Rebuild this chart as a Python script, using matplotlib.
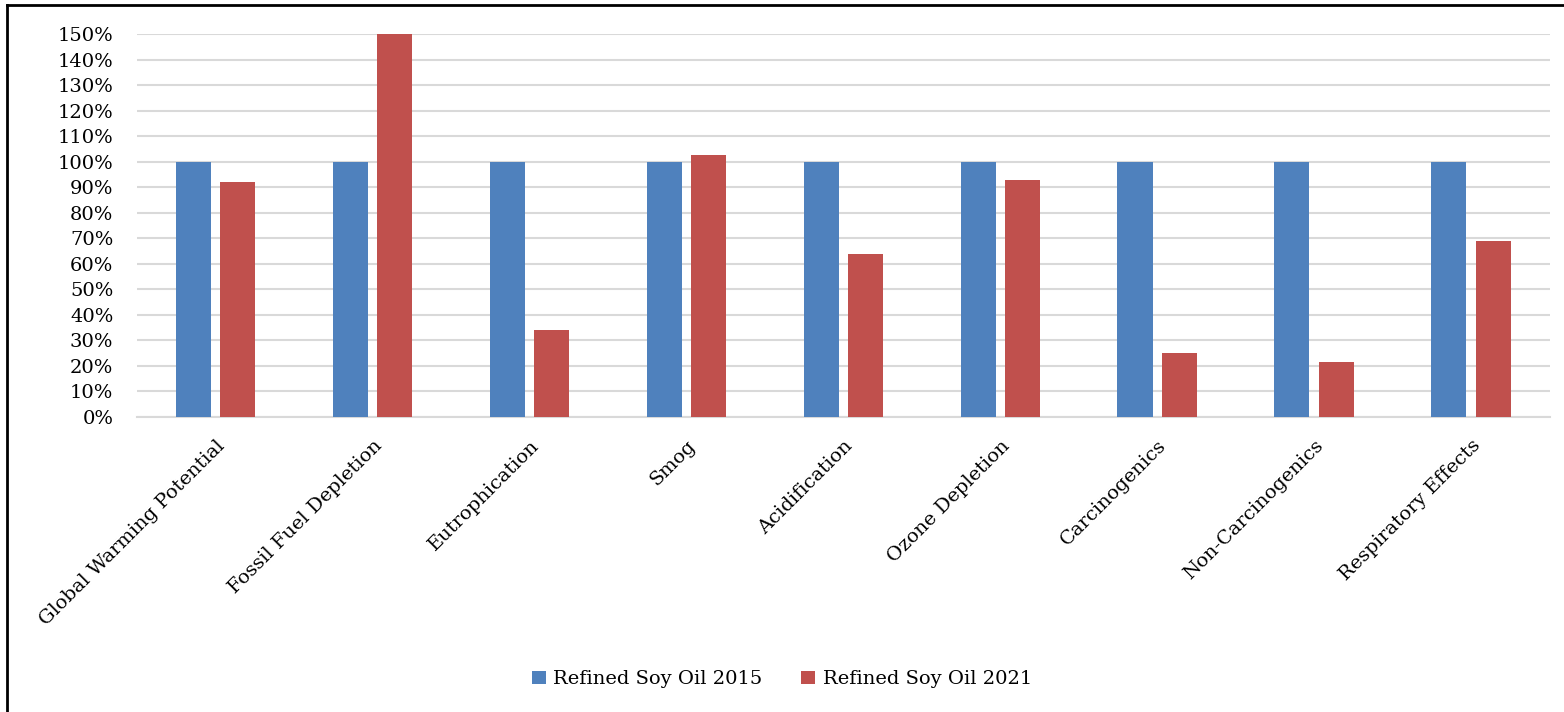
import matplotlib.pyplot as plt
import numpy as np
from matplotlib.lines import Line2D
from matplotlib.ticker import PercentFormatter

categories = ["Global Warming Potential", "Fossil Fuel Depletion", "Eutrophication",
              "Smog", "Acidification", "Ozone Depletion", "Carcinogenics",
              "Non-Carcinogenics", "Respiratory Effects"]
soy_2015 = [100, 100, 100, 100, 100, 100, 100, 100, 100]
soy_2021 = [92, 150, 34, 102.5, 64, 93, 25, 21.5, 69]
series_names = ["Refined Soy Oil 2015", "Refined Soy Oil 2021"]

plt.rcParams['font.family'] = ['DejaVu Serif']

fig = plt.figure(figsize=(15.64, 7.12), dpi=100)
ax = fig.add_axes([0.0876, 0.4143, 0.9034, 0.5379])

x = np.arange(len(categories))
w = 0.223
off = 0.143
ax.bar(x - off, soy_2015, w, color='#4F81BD', label=series_names[0], zorder=3)
ax.bar(x + off, soy_2021, w, color='#C0504D', label=series_names[1], zorder=3)

ax.set_xlim(-0.5, len(categories) - 0.5)
ax.set_ylim(0, 150)
ax.set_yticks(np.arange(0, 151, 10))
ax.yaxis.set_major_formatter(PercentFormatter(decimals=0))
ax.grid(axis='y', color='#D9D9D9', linewidth=1.5, zorder=0)
for s in ['top', 'right', 'left']:
    ax.spines[s].set_visible(False)
ax.spines['bottom'].set_color('#D9D9D9')
ax.spines['bottom'].set_linewidth(1.5)
ax.tick_params(axis='both', length=0, labelsize=14)
ax.tick_params(axis='y', pad=17)
ax.set_xticks(x)
ax.set_xticklabels(categories, rotation=45, ha='right', rotation_mode='anchor')
ax.tick_params(axis='x', pad=14)

fig.legend(loc='center', bbox_to_anchor=(0.5, 0.046), ncol=2, frameon=False,
           fontsize=14, handlelength=0.7, handleheight=0.7, columnspacing=2.0,
           handletextpad=0.4)

# frame: left and top edges only (rest is cropped in the original)
fig.add_artist(Line2D([0.0045, 0.0045], [0.0, 0.993], transform=fig.transFigure,
                      color='black', linewidth=2))
fig.add_artist(Line2D([0.0045, 1.0], [0.993, 0.993], transform=fig.transFigure,
                      color='black', linewidth=2))

fig.savefig('out.png', dpi=100)
